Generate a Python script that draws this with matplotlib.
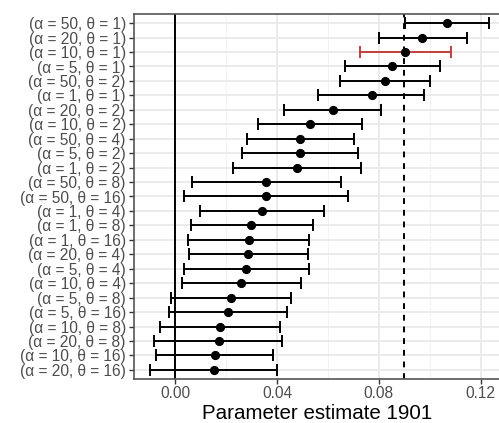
import matplotlib.pyplot as plt
import numpy as np

plt.rcParams['font.family'] = ['Liberation Sans', 'DejaVu Sans']

# rows top to bottom
labels = ['(α = 50, θ = 1)', '(α = 20, θ = 1)', '(α = 10, θ = 1)', '(α = 5, θ = 1)',
          '(α = 50, θ = 2)', '(α = 1, θ = 1)', '(α = 20, θ = 2)', '(α = 10, θ = 2)',
          '(α = 50, θ = 4)', '(α = 5, θ = 2)', '(α = 1, θ = 2)', '(α = 50, θ = 8)',
          '(α = 50, θ = 16)', '(α = 1, θ = 4)', '(α = 1, θ = 8)', '(α = 1, θ = 16)',
          '(α = 20, θ = 4)', '(α = 5, θ = 4)', '(α = 10, θ = 4)', '(α = 5, θ = 8)',
          '(α = 5, θ = 16)', '(α = 10, θ = 8)', '(α = 20, θ = 8)', '(α = 10, θ = 16)',
          '(α = 20, θ = 16)']
estimate = [0.1069, 0.0970, 0.0904, 0.0852, 0.0822, 0.0771, 0.0619, 0.0530,
            0.0491, 0.0491, 0.0478, 0.0357, 0.0355, 0.0341, 0.0297, 0.0288,
            0.0287, 0.0278, 0.0258, 0.0217, 0.0207, 0.0174, 0.0170, 0.0157,
            0.0150]
lower = [0.0904, 0.0799, 0.0725, 0.0665, 0.0645, 0.0562, 0.0428, 0.0326,
         0.0280, 0.0263, 0.0228, 0.0065, 0.0032, 0.0096, 0.0061, 0.0050,
         0.0053, 0.0033, 0.0024, -0.0018, -0.0026, -0.0060, -0.0083, -0.0076,
         -0.0100]
upper = [0.1232, 0.1145, 0.1083, 0.1041, 0.0999, 0.0978, 0.0808, 0.0732,
         0.0702, 0.0717, 0.0728, 0.0650, 0.0678, 0.0585, 0.0539, 0.0526,
         0.0520, 0.0524, 0.0493, 0.0455, 0.0438, 0.0410, 0.0420, 0.0385,
         0.0401]
highlight = '(α = 10, θ = 1)'
true_value = 0.09

n = len(labels)
y = np.arange(n)[::-1] + 1

fig = plt.figure(figsize=(4.99, 4.23), dpi=100)
ax = fig.add_axes([133.5 / 499, (423 - 378.5) / 423, (501 - 133.5) / 499, (378.5 - 14.5) / 423])

ax.set_xlim(-0.0165, 0.1280)
ax.set_ylim(0.4, n + 0.6)

# grid like theme_bw
for gx in [0.02, 0.06, 0.10]:
    ax.axvline(gx, color='#f2f2f2', lw=0.8, zorder=0)
for gx in [0.0, 0.04, 0.08, 0.12]:
    ax.axvline(gx, color='#ebebeb', lw=1.4, zorder=0)
for gy in y:
    ax.axhline(gy, color='#ebebeb', lw=1.4, zorder=0)

ax.axvline(0, color='black', lw=1.4, zorder=1)
ax.axvline(true_value, color='black', lw=1.4, ls=(0, (3, 3)), zorder=1)

for i in range(n):
    c = '#c0403f' if labels[i] == highlight else 'black'
    ax.errorbar(estimate[i], y[i], xerr=[[estimate[i] - lower[i]], [upper[i] - estimate[i]]],
                fmt='none', ecolor=c, elinewidth=1.4, capsize=4.6, capthick=1.4, zorder=2)
ax.plot(estimate, y, 'o', color='black', ms=5.6, zorder=3)

ax.set_yticks(y)
ax.set_yticklabels(labels)
ax.set_xticks([0.0, 0.04, 0.08, 0.12])
ax.set_xticklabels(['0.00', '0.04', '0.08', '0.12'])
ax.tick_params(axis='both', colors='#333333', labelcolor='#4d4d4d', labelsize=11.2,
               length=3.5, width=1.0, pad=2)
ax.set_xlabel('Parameter estimate 1901', fontsize=14.8, color='black', labelpad=2)

for s in ax.spines.values():
    s.set_color('#555555')
    s.set_linewidth(1.2)

fig.savefig('out.png', dpi=100)
